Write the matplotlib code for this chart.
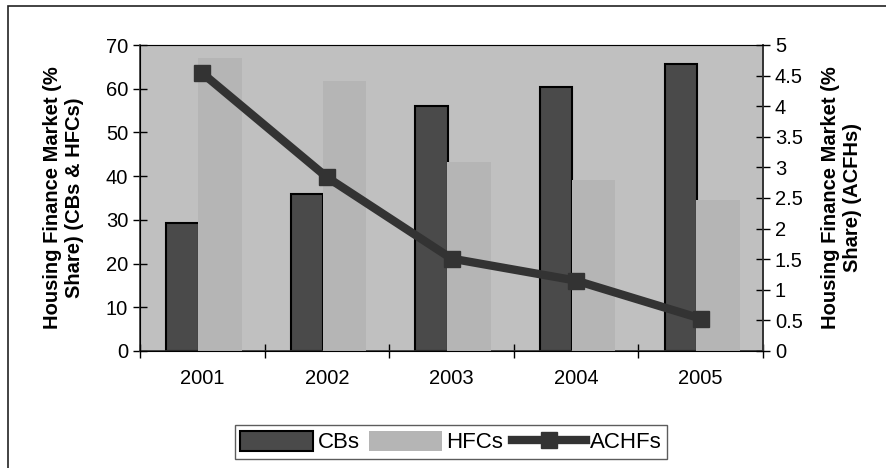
import matplotlib
matplotlib.use("Agg")
import matplotlib.pyplot as plt
from matplotlib.patches import Rectangle, Patch
from matplotlib.lines import Line2D
import numpy as np

# ---------- Data ----------
years = ["2001", "2002", "2003", "2004", "2005"]
cbs = [29.3, 35.9, 56.0, 60.5, 65.7]
hfcs = [67.0, 61.8, 43.2, 39.1, 34.5]
achfs = [4.54, 2.84, 1.51, 1.15, 0.53]

plt.rcParams['font.family'] = ['Liberation Sans', 'DejaVu Sans']

fig = plt.figure(figsize=(8.87, 4.68), dpi=100)
fig.patch.set_facecolor("white")

# outer chart border (runs off the right and bottom edge)
fig.patches.append(Rectangle((8 / 887, -0.05), 1.0, (468 - 6) / 468 + 0.05,
                             transform=fig.transFigure, fill=False,
                             edgecolor="#222222", linewidth=1.2))

ax = fig.add_axes([140 / 887, 1 - 351 / 468, 623 / 887, 306 / 468])
ax.set_facecolor("#c0c0c0")

x = np.arange(len(years))
ax.bar(x - 0.16, cbs, width=0.26, color="#4a4a4a", edgecolor="black",
       linewidth=1.5, zorder=2)
ax.bar(x + 0.14, hfcs, width=0.35, color="#b5b5b5", edgecolor="none", zorder=3)

ax.set_xlim(-0.5, len(years) - 0.5)
ax.set_ylim(0, 70)
ax.set_yticks(range(0, 71, 10))
ax.set_xticks(np.arange(-0.5, len(years), 1.0))
ax.set_xticklabels([])
ax.set_xticks(x, minor=True)
ax.set_xticklabels(years, minor=True)
ax.tick_params(axis="x", which="major", direction="inout", length=10, width=1)
ax.tick_params(axis="x", which="minor", length=0, pad=13, labelsize=14.5)
ax.tick_params(axis="y", direction="inout", length=10, width=1, labelsize=14.5)

for side in ["left", "bottom", "right"]:
    ax.spines[side].set_color("#333333")
    ax.spines[side].set_linewidth(1.2)
ax.spines["top"].set_color("#888888")

ax.set_ylabel("Housing Finance Market (%\nShare) (CBs & HFCs)", fontsize=14.5,
              fontweight="bold", labelpad=16)

ax2 = ax.twinx()
ax2.plot(x, achfs, color="#333333", linewidth=6, marker="s", markersize=12,
         zorder=5)
ax2.set_ylim(0, 5)
ax2.set_yticks(np.arange(0, 5.01, 0.5))
ax2.set_yticklabels(["0", "0.5", "1", "1.5", "2", "2.5", "3", "3.5", "4", "4.5", "5"])
ax2.tick_params(axis="y", direction="inout", length=10, width=1, labelsize=14.5)
ax2.spines["right"].set_color("#333333")
ax2.spines["right"].set_linewidth(1.2)
ax2.set_ylabel("Housing Finance Market (%\nShare) (ACFHs)", fontsize=14.5,
               fontweight="bold", labelpad=13)

handles = [
    Patch(facecolor="#4a4a4a", edgecolor="black", linewidth=1.5, label="CBs"),
    Patch(facecolor="#b5b5b5", edgecolor="none", label="HFCs"),
    Line2D([], [], color="#333333", linewidth=6, marker="s", markersize=12,
           label="ACHFs"),
]
fig.legend(handles=handles, loc="center", bbox_to_anchor=(451 / 887, 1 - 442 / 468),
           ncol=3, fontsize=16, frameon=True, fancybox=False, edgecolor="#333333",
           handlelength=3.3, handleheight=1.0, columnspacing=0.4, handletextpad=0.2,
           borderpad=0.25)

fig.savefig("out.png", dpi=100)
